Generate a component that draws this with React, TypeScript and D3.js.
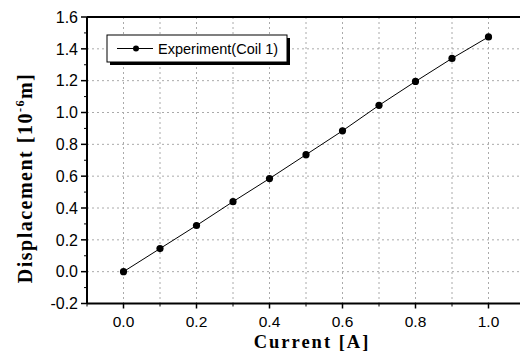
import React from "react";
import * as d3 from "d3";

const currents = [0, 0.1, 0.2, 0.3, 0.4, 0.5, 0.6, 0.7, 0.8, 0.9, 1.0];
const displacements = [0, 0.145, 0.29, 0.44, 0.585, 0.735, 0.885, 1.045, 1.195, 1.34, 1.475];
const xTicks = [0, 0.2, 0.4, 0.6, 0.8, 1.0];
const xMinor = [-0.1, 0, 0.1, 0.2, 0.3, 0.4, 0.5, 0.6, 0.7, 0.8, 0.9, 1.0];
const yTicks = [-0.2, 0, 0.2, 0.4, 0.6, 0.8, 1.0, 1.2, 1.4, 1.6];
const yMinor = [-0.1, 0.1, 0.3, 0.5, 0.7, 0.9, 1.1, 1.3, 1.5];
const yGrid = [0, 0.2, 0.4, 0.6, 0.8, 1.0, 1.2, 1.4];
const legendLabel = "Experiment(Coil 1)";

const W = 520;
const H = 353;
const L = 87, R = 525, T = 17, B = 303.5;

export default function App() {
  const x = d3.scaleLinear().domain([-0.1, 1.1]).range([L, R]);
  const y = d3.scaleLinear().domain([-0.2, 1.6]).range([B, T]);
  const pts = currents.map((c, i) => [c, displacements[i]] as [number, number]);
  const line = d3.line<[number, number]>().x(d => x(d[0])).y(d => y(d[1]));
  const font = "Arial, 'Liberation Sans', sans-serif";
  const serif = "'Times New Roman', 'Liberation Serif', serif";
  return (
    <svg width={W} height={H} style={{ position: "absolute", left: 0, top: 0, background: "#fff" }}>
      <rect width={W} height={H} fill="#fff" />
      {/* grid */}
      {xMinor.filter(v => v >= 0).map(v => (
        <line key={"gx" + v} x1={x(v)} x2={x(v)} y1={T} y2={B} stroke="#aaa" strokeWidth={1} strokeDasharray="2,3" />
      ))}
      {yGrid.map(v => (
        <line key={"gy" + v} x1={L} x2={R} y1={y(v)} y2={y(v)} stroke="#aaa" strokeWidth={1} strokeDasharray="2,3" />
      ))}
      {/* axes */}
      <line x1={L} x2={R} y1={T} y2={T} stroke="#000" strokeWidth={2} />
      <line x1={L} x2={L} y1={T} y2={B} stroke="#000" strokeWidth={2} />
      <line x1={L} x2={R} y1={B} y2={B} stroke="#000" strokeWidth={2} />
      {yTicks.map(v => (
        <g key={"yt" + v}>
          <line x1={L - 6} x2={L} y1={y(v)} y2={y(v)} stroke="#000" strokeWidth={1.5} />
          <text x={L - 9} y={y(v)} dy="0.36em" textAnchor="end" fontFamily={font} fontSize={16}>
            {d3.format(".1f")(v).replace("−", "-")}
          </text>
        </g>
      ))}
      {yMinor.map(v => (
        <line key={"ym" + v} x1={L - 3} x2={L} y1={y(v)} y2={y(v)} stroke="#000" strokeWidth={1} />
      ))}
      {xMinor.map(v => (
        <line key={"xm" + v} x1={x(v)} x2={x(v)} y1={B} y2={B + 3} stroke="#000" strokeWidth={1} />
      ))}
      {xTicks.map(v => (
        <g key={"xt" + v}>
          <line x1={x(v)} x2={x(v)} y1={B} y2={B + 5} stroke="#000" strokeWidth={1.5} />
          <text x={x(v)} y={B + 23.5} textAnchor="middle" fontFamily={font} fontSize={15.5}>
            {d3.format(".1f")(v)}
          </text>
        </g>
      ))}
      {/* data */}
      <path d={line(pts) || ""} fill="none" stroke="#000" strokeWidth={1} />
      {pts.map((p, i) => (
        <circle key={"p" + i} cx={x(p[0])} cy={y(p[1])} r={3.6} fill="#000" />
      ))}
      {/* legend */}
      <rect x={110} y={38} width={180} height={27} fill="#000" />
      <rect x={107} y={35} width={180} height={27} fill="#fff" stroke="#000" strokeWidth={1} />
      <line x1={117} x2={153} y1={48.5} y2={48.5} stroke="#000" strokeWidth={1} />
      <circle cx={136} cy={48.5} r={3} fill="#000" />
      <text x={158} y={48.5} dy="0.36em" fontFamily={font} fontSize={14.5}>{legendLabel}</text>
      {/* axis titles */}
      <text x={312} y={348} textAnchor="middle" fontFamily={serif} fontWeight="bold" fontSize={18.5} letterSpacing={2}>
        Current [A]
      </text>
      <text transform={`translate(32,${178}) rotate(-90)`} textAnchor="middle" fontFamily={serif} fontWeight="bold" fontSize={20} letterSpacing={1.5}>
        Displacement [10<tspan dy={-8} fontSize={12}>-6</tspan><tspan dy={8}>m]</tspan>
      </text>
    </svg>
  );
}
